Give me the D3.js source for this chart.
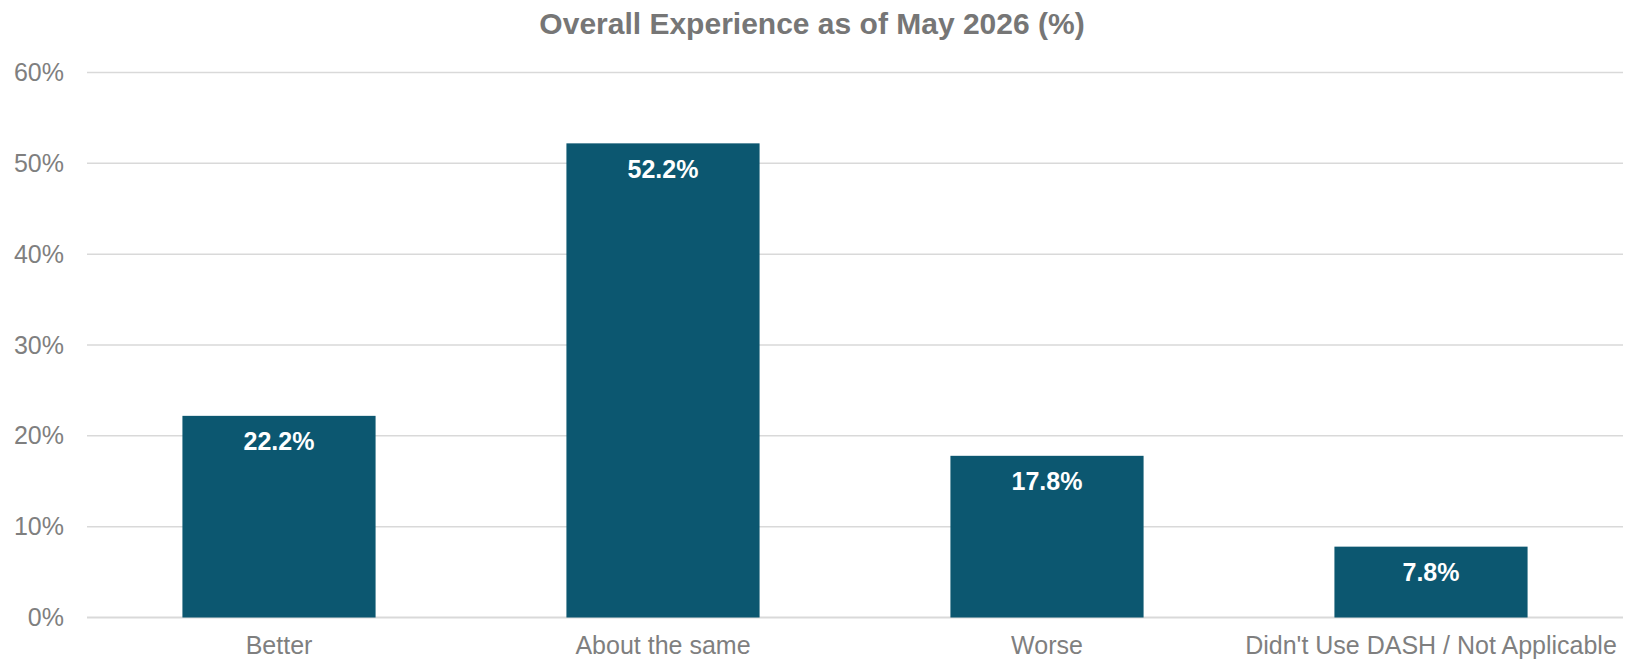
<!DOCTYPE html>
<html>
<head>
<meta charset="utf-8">
<script src="https://cdn.jsdelivr.net/npm/d3@7"></script>
<style>
  html, body { margin: 0; padding: 0; background: #ffffff; }
  svg { display: block; font-family: Arial, "Liberation Sans", sans-serif; }
</style>
</head>
<body>
<svg id="chart" width="1632" height="662"></svg>
<script>
// Survey results: overall experience
const categories = ["Better", "About the same", "Worse", "Didn't Use DASH / Not Applicable"];
const values = [22.2, 52.2, 17.8, 7.8];
const yTicks = [0, 10, 20, 30, 40, 50, 60];
const titleText = "Overall Experience as of May 2026 (%)";

const width = 1632, height = 662;
const margin = { top: 72.5, right: 9, bottom: 44.5, left: 87 };

const svg = d3.select("#chart");

const x = d3.scaleBand()
  .domain(categories)
  .range([margin.left, width - margin.right])
  .paddingInner(0.497)
  .paddingOuter(0.2485);

const y = d3.scaleLinear()
  .domain([0, 60])
  .range([height - margin.bottom, margin.top]);

// Title
svg.append("text")
  .attr("x", 812)
  .attr("y", 34.3)
  .attr("text-anchor", "middle")
  .attr("font-size", 30)
  .attr("font-weight", "bold")
  .attr("fill", "#767676")
  .text(titleText);

// Horizontal gridlines
svg.append("g")
  .selectAll("line")
  .data(yTicks)
  .join("line")
  .attr("x1", margin.left)
  .attr("x2", width - margin.right)
  .attr("y1", d => y(d))
  .attr("y2", d => y(d))
  .attr("stroke", "#d9d9d9")
  .attr("stroke-width", d => d === 0 ? 2 : 1.5);

// Y axis labels
const yAxis = d3.axisLeft(y)
  .tickValues(yTicks)
  .tickFormat(d => d + "%")
  .tickSize(0)
  .tickPadding(23);
const gy = svg.append("g")
  .attr("transform", `translate(${margin.left},0)`)
  .call(yAxis);
gy.select(".domain").remove();
gy.selectAll("text")
  .attr("font-size", 25)
  .attr("font-family", "Arial, 'Liberation Sans', sans-serif")
  .attr("fill", "#7f7f7f");

// Bars
svg.append("g")
  .selectAll("rect")
  .data(values)
  .join("rect")
  .attr("x", (d, i) => x(categories[i]))
  .attr("width", x.bandwidth())
  .attr("y", d => y(d))
  .attr("height", d => y(0) - y(d))
  .attr("fill", "#0c5770");

// Value labels inside bars
svg.append("g")
  .selectAll("text")
  .data(values)
  .join("text")
  .attr("x", (d, i) => x(categories[i]) + x.bandwidth() / 2)
  .attr("y", d => y(d) + 34.5)
  .attr("text-anchor", "middle")
  .attr("font-size", 25)
  .attr("font-weight", "bold")
  .attr("fill", "#ffffff")
  .text(d => d.toFixed(1) + "%");

// X axis labels
const xAxis = d3.axisBottom(x).tickSize(0).tickPadding(0);
const gx = svg.append("g")
  .attr("transform", `translate(0,${y(0)})`)
  .call(xAxis);
gx.select(".domain").remove();
gx.selectAll("text")
  .attr("font-size", 25)
  .attr("font-family", "Arial, 'Liberation Sans', sans-serif")
  .attr("fill", "#7f7f7f")
  .attr("dy", null)
  .attr("y", 36.5);
</script>
</body>
</html>
